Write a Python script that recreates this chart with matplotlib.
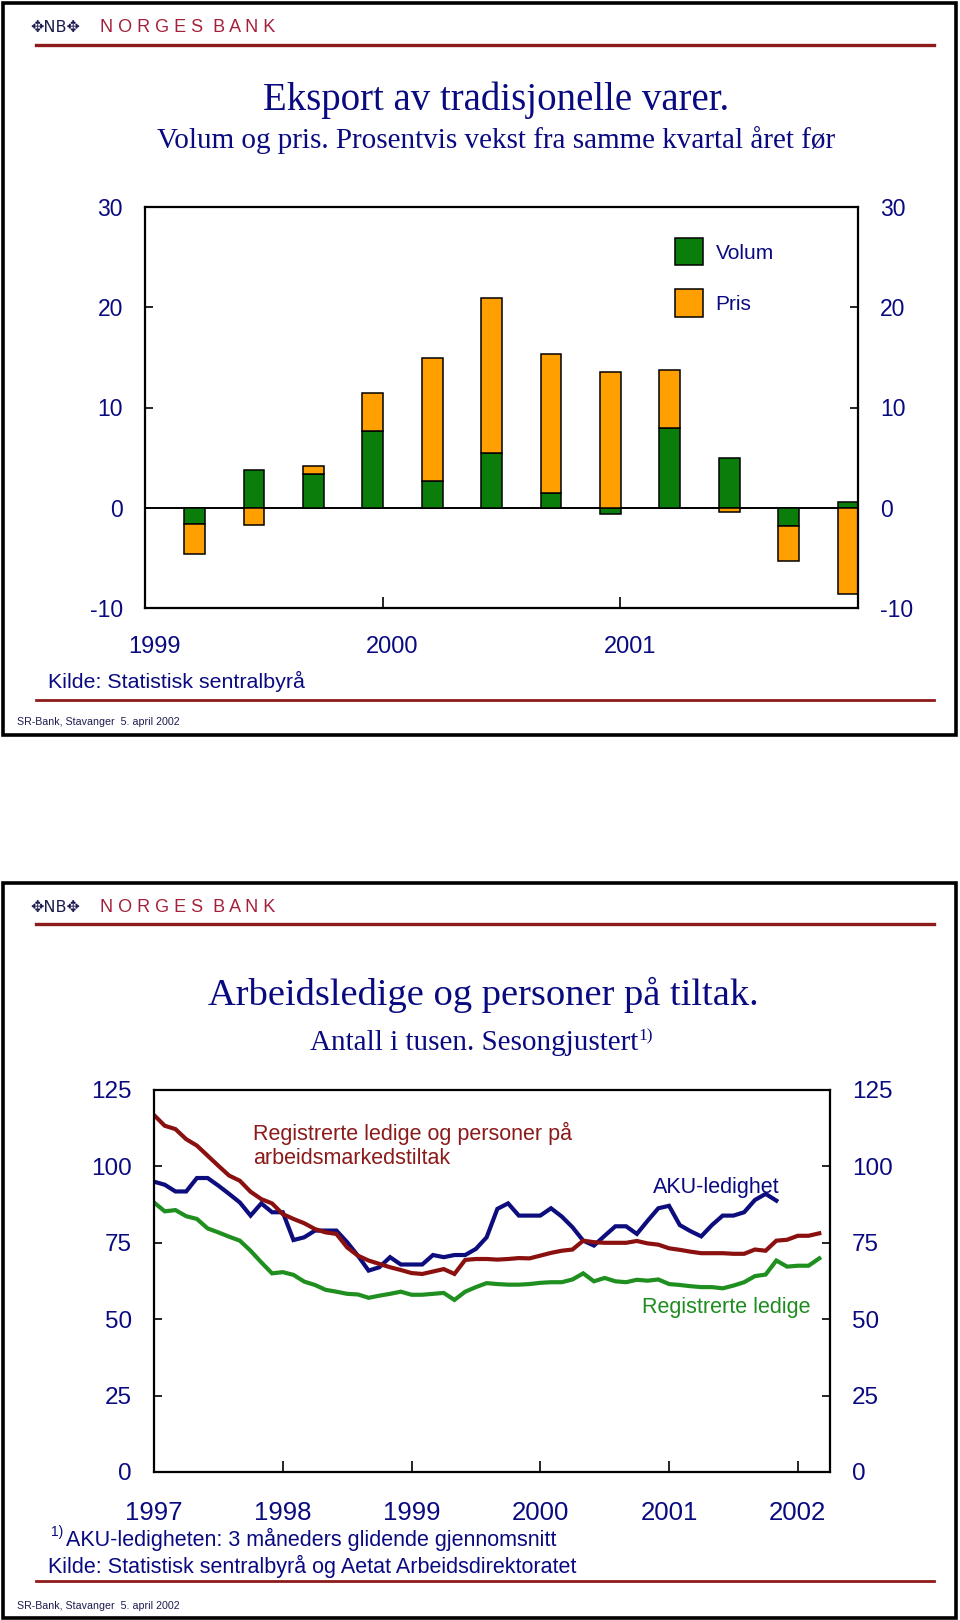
import matplotlib
matplotlib.use("Agg")
import matplotlib.pyplot as plt
from matplotlib.patches import Rectangle
from matplotlib.lines import Line2D

W, H = 960, 1620

NAVY = "#0a0a80"
BANKRED = "#8e1b1b"
GREEN = "#0b7d0b"
ORANGE = "#ffa000"

# ---- panel 1: eksport av tradisjonelle varer, kvartal 1999-2001
quarters = ["99K1", "99K2", "99K3", "99K4", "00K1", "00K2", "00K3", "00K4",
            "01K1", "01K2", "01K3", "01K4"]
volum = [-1.65, 3.8, 3.4, 7.7, 2.7, 5.45, 1.5, -0.6, 8.0, 5.0, -1.8, 0.55]
pris = [-2.95, -1.7, 0.8, 3.7, 12.2, 15.5, 13.8, 13.55, 5.7, -0.4, -3.55, -8.6]
years_top = [1999, 2000, 2001]

# ---- panel 2: arbeidsledige, maanedlig fra jan 1997 (tusen)
reg_tiltak = [116.8, 113.3, 112.2, 108.9, 106.8, 103.5, 100.2, 97.0, 95.3, 91.7, 89.3, 87.9,
              84.4, 82.8, 81.4, 79.5, 78.4, 77.9, 73.5, 70.8, 69.2, 68.1, 67.0, 66.1,
              65.1, 64.8, 65.6, 66.4, 64.8, 69.4, 69.7, 69.7, 69.5, 69.7, 70.0, 69.9,
              70.8, 71.7, 72.4, 72.8, 75.7, 75.2, 75.0, 75.0, 75.0, 75.6, 74.8, 74.4,
              73.2, 72.7, 72.1, 71.6, 71.6, 71.6, 71.4, 71.4, 72.8, 72.4, 75.7, 76.0,
              77.3, 77.3, 78.1]
reg_ledige = [88.2, 85.3, 85.7, 83.7, 82.8, 79.7, 78.4, 77.0, 75.7, 72.4, 68.6, 65.0,
              65.4, 64.5, 62.3, 61.2, 59.6, 59.0, 58.3, 58.1, 57.0, 57.7, 58.3, 59.0,
              58.0, 58.0, 58.3, 58.6, 56.3, 59.0, 60.5, 61.8, 61.5, 61.3, 61.3, 61.5,
              61.9, 62.1, 62.1, 63.0, 65.0, 62.4, 63.5, 62.4, 62.1, 62.9, 62.6, 63.0,
              61.5, 61.2, 60.8, 60.5, 60.5, 60.1, 61.0, 62.1, 64.1, 64.6, 69.2, 67.2,
              67.5, 67.5, 69.9]
aku = [95.0, 94.0, 91.8, 91.8, 96.2, 96.2, 93.7, 91.0, 88.2, 83.9, 87.9, 85.0,
       85.0, 75.9, 76.8, 79.0, 79.0, 79.0, 75.2, 70.8, 65.9, 67.0, 70.3, 67.9,
       67.9, 67.9, 71.0, 70.3, 71.0, 71.0, 73.0, 76.8, 86.1, 87.9, 83.9, 83.9,
       83.9, 86.3, 83.6, 80.1, 75.7, 74.1, 77.3, 80.4, 80.4, 77.9, 82.2, 86.3,
       87.1, 80.8, 78.8, 77.1, 80.8, 83.9, 83.9, 85.0, 89.0, 91.0, 88.8]
years_bottom = [1997, 1998, 1999, 2000, 2001, 2002]


def fx(x):
    return x / W


def fy(y):
    return 1 - y / H


plt.rcParams["font.family"] = ["Liberation Sans", "DejaVu Sans"]
plt.rcParams["axes.unicode_minus"] = False

fig = plt.figure(figsize=(W / 100, H / 100), dpi=100)


def slide_frame(top, bottom, logo_y, line1_y, line2_y, sr_y):
    fig.add_artist(Rectangle((fx(3), fy(bottom)), fx(953), (bottom - top) / H,
                             transform=fig.transFigure, fill=False, lw=2.6, ec="black"))
    fig.add_artist(Line2D([fx(36), fx(934)], [fy(line1_y)] * 2, transform=fig.transFigure,
                          color=BANKRED, lw=2.4))
    fig.add_artist(Line2D([fx(36), fx(934)], [fy(line2_y)] * 2, transform=fig.transFigure,
                          color=BANKRED, lw=2.0))
    fig.text(fx(30), fy(logo_y), "\u2725NB\u2725", family="DejaVu Sans", fontsize=11.5,
             color="#1c1c50", va="center", ha="left")
    fig.text(fx(100), fy(logo_y), "N O R G E S  B A N K", fontsize=13,
             color="#a3203a", va="center", ha="left")
    fig.text(fx(17), fy(sr_y), "SR-Bank, Stavanger  5. april 2002", fontsize=7.7,
             color="#1c1c50", va="center", ha="left")


# ================= panel 1 =================
slide_frame(3, 735, 27, 45, 700, 722)
fig.text(fx(496), fy(110), "Eksport av tradisjonelle varer.", family="Liberation Serif",
         fontsize=28, color=NAVY, ha="center", va="baseline")
fig.text(fx(496), fy(148), "Volum og pris. Prosentvis vekst fra samme kvartal året før",
         family="Liberation Serif", fontsize=21, color=NAVY, ha="center", va="baseline")

ax1 = fig.add_axes([fx(145), fy(608), (858 - 145) / W, (608 - 207) / H])

# bars sit in the last month of each quarter
xq = [years_top[0] + (3 * i + 2.5) / 12 for i in range(len(quarters))]
bw = 0.35 / 4
pris_bottom = [v if (v > 0) == (p > 0) else 0 for v, p in zip(volum, pris)]
ax1.axhline(0, color="black", lw=1.4, zorder=1)
ax1.bar(xq, volum, width=bw, color=GREEN, edgecolor="black", lw=1.1, label="Volum", zorder=2)
ax1.bar(xq, pris, width=bw, bottom=pris_bottom, color=ORANGE, edgecolor="black", lw=1.1,
        label="Pris", zorder=2)

ax1.set_xlim(years_top[0], years_top[-1] + 1)
ax1.set_ylim(-10, 30)
ax1.set_yticks(range(-10, 31, 10))
ax1.set_xticks(years_top[1:])
ax1.set_xticklabels([])
ax1.set_xticks([y + 0.5 / 12 for y in years_top], [str(y) for y in years_top], minor=True)
ax1.tick_params(axis="y", direction="in", length=6, width=1.2, left=True, right=True,
                labelleft=True, labelright=True, labelsize=16.5, labelcolor=NAVY, pad=16)
ax1.tick_params(axis="x", which="major", direction="in", length=8, width=1.2)
ax1.tick_params(axis="x", which="minor", length=0, labelsize=17, labelcolor=NAVY, pad=20)
for s in ax1.spines.values():
    s.set_linewidth(1.6)

ax1.legend(loc="upper left", bbox_to_anchor=((675 - 145) / 713, (608 - 238) / 401),
           frameon=False, fontsize=15, labelcolor=NAVY, handlelength=1.35,
           handleheight=1.65, handletextpad=0.6, labelspacing=1.15, borderpad=0,
           borderaxespad=0)

fig.text(fx(48), fy(688), "Kilde: Statistisk sentralbyrå", fontsize=15.4, color=NAVY,
         ha="left", va="baseline")

# ================= panel 2 =================
slide_frame(883, 1618, 907, 924, 1581, 1606)
fig.text(fx(483), fy(1005), "Arbeidsledige og personer på tiltak.", family="Liberation Serif",
         fontsize=27.7, color=NAVY, ha="center", va="baseline")
sub = fig.text(fx(474), fy(1050), "Antall i tusen. Sesongjustert", family="Liberation Serif",
               fontsize=21, color=NAVY, ha="center", va="baseline")

ax2 = fig.add_axes([fx(154), fy(1472), (830 - 154) / W, (1472 - 1090) / H])
ax2.annotate("1)", xy=(1, 1), xycoords=sub, xytext=(0.5, 1), textcoords="offset points",
             family="Liberation Serif", fontsize=12.5, color=NAVY, ha="left", va="top",
             annotation_clip=False)

x_reg = [years_bottom[0] + k / 12 for k in range(len(reg_tiltak))]
x_aku = [years_bottom[0] + k / 12 for k in range(len(aku))]
ax2.plot(x_reg, reg_ledige, color="#1f8f1f", lw=3, solid_joinstyle="miter")
ax2.plot(x_aku, aku, color="#0d0d7d", lw=3, solid_joinstyle="miter")
ax2.plot(x_reg, reg_tiltak, color="#8b1010", lw=3, solid_joinstyle="miter")

ax2.set_xlim(years_bottom[0], years_bottom[-1] + 0.25)
ax2.set_ylim(0, 125)
ax2.set_yticks(range(0, 126, 25))
ax2.set_xticks(years_bottom, [str(y) for y in years_bottom])
ax2.tick_params(axis="y", direction="in", length=6, width=1.2, left=True, right=True,
                labelleft=True, labelright=True, labelsize=17.5, labelcolor=NAVY, pad=16)
ax2.tick_params(axis="x", direction="in", length=8, width=1.2, labelsize=18.5,
                labelcolor=NAVY, pad=21)
for s in ax2.spines.values():
    s.set_linewidth(1.6)

ax2.text((253 - 154) / 676, (1472 - 1122) / 382,
         "Registrerte ledige og personer på\narbeidsmarkedstiltak", transform=ax2.transAxes,
         fontsize=15.5, color="#8b1a1a", ha="left", va="top", linespacing=1.15)
ax2.text((653 - 154) / 676, (1472 - 1193) / 382, "AKU-ledighet", transform=ax2.transAxes,
         fontsize=15.5, color=NAVY, ha="left", va="baseline")
ax2.text((642 - 154) / 676, (1472 - 1313) / 382, "Registrerte ledige", transform=ax2.transAxes,
         fontsize=15.5, color="#1e8c1e", ha="left", va="baseline")

foot = fig.text(fx(66), fy(1546), "AKU-ledigheten: 3 måneders glidende gjennomsnitt",
                fontsize=15.5, color=NAVY, ha="left", va="baseline")
ax2.annotate("1)", xy=(0, 1), xycoords=foot, xytext=(-2, 2), textcoords="offset points",
             fontsize=10, color=NAVY, ha="right", va="top", annotation_clip=False)
fig.text(fx(48), fy(1573), "Kilde: Statistisk sentralbyrå og Aetat Arbeidsdirektoratet",
         fontsize=15.5, color=NAVY, ha="left", va="baseline")

fig.savefig("out.png", dpi=100)
